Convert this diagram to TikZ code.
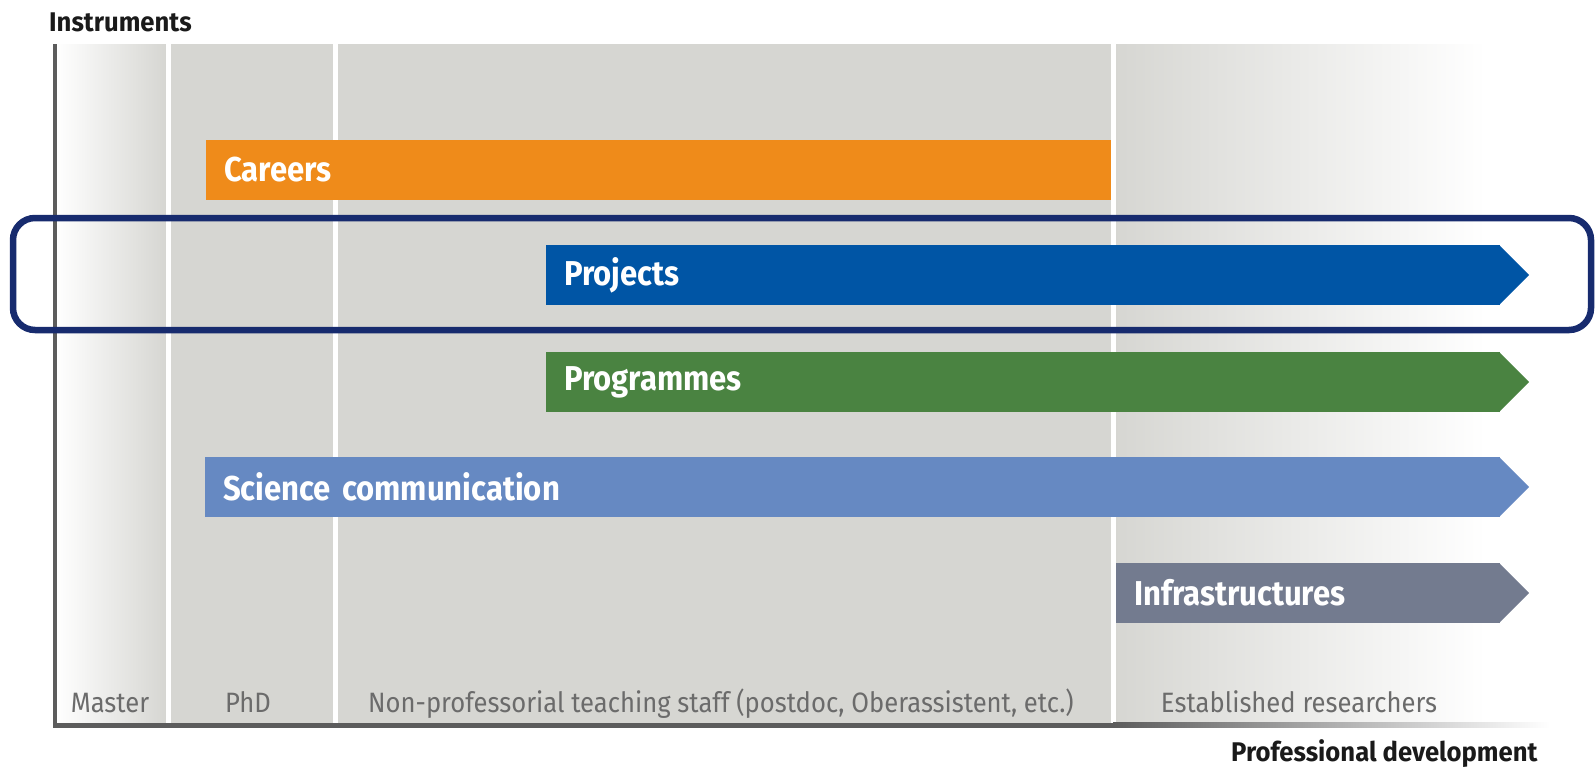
\documentclass[tikz,border=0pt]{standalone}
\usepackage{fontspec}
\newfontfamily\barfont[FakeStretch=0.9]{Fira Sans}
\newfontfamily\stagefont[FakeStretch=0.915]{Fira Sans}
\newfontfamily\titlefont[FakeStretch=0.95]{Fira Sans}
\usetikzlibrary{positioning}

\definecolor{bggray}{HTML}{D6D6D2}
\definecolor{axisgray}{HTML}{5C5C5C}
\definecolor{labelgray}{HTML}{6B6B6B}
\definecolor{titleblack}{HTML}{1A1A1A}
\definecolor{ccareer}{HTML}{EF8B1A}
\definecolor{cproj}{HTML}{0055A5}
\definecolor{cprog}{HTML}{4A8341}
\definecolor{cscience}{HTML}{6689C2}
\definecolor{cinfra}{HTML}{737B8F}
\definecolor{navy}{HTML}{172B6E}

\begin{document}
\begin{tikzpicture}[x=1pt,y=-1pt,
    barbox/.style={rectangle, inner xsep=18pt, inner ysep=0pt, outer sep=0pt,
        minimum height=60pt, anchor=west, align=left, text=white,
        font=\barfont\bfseries\fontsize{34.5}{40}\selectfont},
    stage/.style={anchor=base, inner sep=0pt, text=labelgray,
        font=\stagefont\fontsize{28}{32}\selectfont},
    axistitle/.style={inner sep=0pt, anchor=base west, text=titleblack,
        font=\titlefont\bfseries\fontsize{27}{31}\selectfont}]
    \useasboundingbox (0,0) rectangle (1595,769);

    % columns
    \shade[left color=white, right color=bggray] (56,44) rectangle (166,725);
    \fill[bggray] (166,44) rectangle (1113,725);
    \shade[left color=bggray, right color=white] (1113,44) rectangle (1486,725);
    \fill[white] (165.5,44) rectangle (170.5,725);
    \fill[white] (333,44) rectangle (338,725);
    \fill[white] (1111,44) rectangle (1116,725);

    % axes
    \fill[axisgray] (52.5,44) rectangle (56.5,727.5);
    \fill[axisgray] (52.5,722.5) rectangle (1113,727.5);
    \shade[left color=axisgray, right color=white] (1113,722.5) rectangle (1550,727.5);

    % instruments
    \node[barbox, fill=ccareer, text width=869pt] (careers) at (206,170) {Careers};

    \node[barbox, fill=cproj, text width=918pt] (projects) at (546,275) {Projects};
    \fill[cproj] ([xshift=-1pt]projects.north east) -- ([xshift=29pt]projects.east)
        -- ([xshift=-1pt]projects.south east) -- cycle;

    \node[barbox, fill=cprog, text width=918pt] (programmes) at (546,382) {Programmes};
    \fill[cprog] ([xshift=-1pt]programmes.north east) -- ([xshift=29pt]programmes.east)
        -- ([xshift=-1pt]programmes.south east) -- cycle;

    \node[barbox, fill=cscience, text width=1259pt] (science) at (205,487) {Science communication};
    \fill[cscience] ([xshift=-1pt]science.north east) -- ([xshift=29pt]science.east)
        -- ([xshift=-1pt]science.south east) -- cycle;

    \node[barbox, fill=cinfra, text width=348pt] (infra) at (1116,593) {Infrastructures};
    \fill[cinfra] ([xshift=-1pt]infra.north east) -- ([xshift=29pt]infra.east)
        -- ([xshift=-1pt]infra.south east) -- cycle;

    % highlight
    \draw[navy, line width=6.5pt, rounded corners=22pt] (13,218) rectangle (1591,330);

    % stages
    \node[stage] (master) at (110,712) {Master};
    \node[stage] (phd) at (248,712) {PhD};
    \node[stage] (postdoc) at (721,712) {Non-professorial teaching staff (postdoc, Oberassistent, etc.)};
    \node[stage] (established) at (1299,712) {Established researchers};

    % axis titles
    \node[axistitle] (instruments) at (49,31) {Instruments};
    \node[axistitle] (profdev) at (1231,761) {Professional development};
\end{tikzpicture}
\end{document}
